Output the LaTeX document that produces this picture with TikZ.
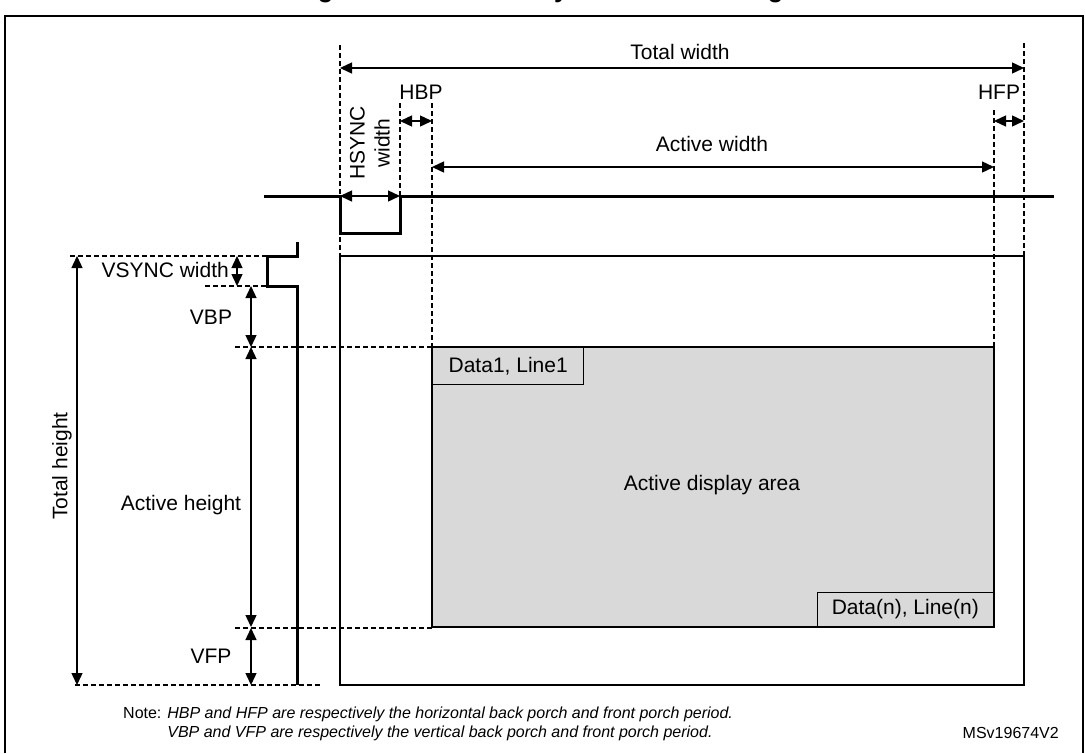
\documentclass[tikz,border=0pt]{standalone}
\usepackage{fontspec}
\setmainfont{Liberation Sans}
\usetikzlibrary{arrows.meta}

\begin{document}
\begin{tikzpicture}[x=1pt,y=-1pt,
		wave/.style={line width=3pt},
		box/.style={line width=1.4pt},
		guide/.style={line width=1.2pt,dash pattern=on 5pt off 3pt},
		dim/.style={line width=1.4pt,{Triangle[length=12pt,width=11pt]}-{Triangle[length=12pt,width=11pt]}},
		lbl/.style={font=\fontsize{21}{25}\selectfont,inner sep=0pt},
		small/.style={font=\fontsize{16}{19}\selectfont,inner sep=0pt}]
	\useasboundingbox (0,0) rectangle (1085,753);
	\begin{scope}
		\clip (0,0) rectangle (1085,753);
		\node[anchor=base west,inner sep=0pt,font=\bfseries\fontsize{25.5}{30}\selectfont] (title) at (295,-3) {Figure 85. LCD-TFT synchronous timings};
	\end{scope}
	\draw[box] (5,753) -- (5,16) -- (1083,16) -- (1083,753);
	% corners of the frame and of the active area
	\coordinate (dispTL) at (340,256);
	\coordinate (dispBR) at (1024,685);
	\coordinate (actTL) at (432,347);
	\coordinate (actBR) at (994,627);
	\coordinate (hsEnd) at (400,196);
	\coordinate (vsEnd) at (267,286);
	\coordinate (twY) at (0,68);
	\coordinate (porchY) at (0,121);
	\coordinate (awY) at (0,167);
	\coordinate (vfpY) at (0,628);
	% sync signals
	\draw[wave] (264,196) -| (340,233) -| (hsEnd) -- (1054,196);
	\draw[wave] (297,242) |- (267,256) |- (297,286) -- (297,685);
	% guides
	\draw[guide] (340,45) -- (dispTL);
	\draw[guide] (400,103) -- (hsEnd);
	\draw[guide] (432,103) -- (actTL);
	\draw[guide] (994,110) -- (actBR |- actTL);
	\draw[guide] (1024,43) -- (dispBR |- dispTL);
	\draw[guide] (70,256) -- (267,256);
	\draw[guide] (205,286) -- (vsEnd);
	\draw[guide] (235,347) -- (actTL);
	\draw[guide] (235,628) -- (actTL |- vfpY);
	\draw[guide] (75,685) -- (322,685);
	% display and active area
	\draw[box] (dispTL) rectangle (dispBR);
	\draw[box,fill=gray!30] (actTL) rectangle (actBR);
	\node[lbl,draw,box,fill=gray!30,anchor=north west,minimum width=151pt,minimum height=37pt] (first) at (actTL) {Data1, Line1};
	\node[lbl,draw,box,fill=gray!30,anchor=south east,minimum width=176pt,minimum height=34pt] (last) at (actBR) {Data(n), Line(n)};
	\node[lbl] (area) at (712,485) {Active display area};
	% horizontal timings
	\draw[dim] (dispTL |- twY) -- (dispBR |- twY);
	\draw[dim] (hsEnd |- porchY) -- (actTL |- porchY);
	\draw[dim] (actBR |- porchY) -- (dispBR |- porchY);
	\draw[dim] (actTL |- awY) -- (actBR |- awY);
	\draw[dim] (dispTL |- hsEnd) -- (hsEnd);
	\node[lbl] (tw) at (680,52) {Total width};
	\node[lbl] (hbp) at (421,92) {HBP};
	\node[lbl] (hfp) at (999,92) {HFP};
	\node[lbl] (aw) at (712,144) {Active width};
	\node[lbl,rotate=90,align=center] (hsw) at (370,143) {HSYNC\\width};
	% vertical timings
	\draw[dim] (77,256) -- (77,685);
	\draw[dim] (237,256) -- (237,286);
	\draw[dim] (251,286) -- (251,347);
	\draw[dim] (251,347) -- (251,627);
	\draw[dim] (251,628) -- (251,685);
	\node[lbl,rotate=90] (th) at (62,466) {Total height};
	\node[lbl,anchor=east] (vsw) at (229,270) {VSYNC width};
	\node[lbl] (vbp) at (211,317) {VBP};
	\node[lbl] (ah) at (181,505) {Active height};
	\node[lbl] (vfp) at (211,656) {VFP};
	% note
	\node[small,anchor=west,align=left] (note) at (123,724) {Note: \textit{HBP and HFP are respectively the horizontal back porch and front porch period.}\\\hphantom{Note: }\textit{VBP and VFP are respectively the vertical back porch and front porch period.}};
	\node[small,anchor=east] (ref) at (1059,733) {MSv19674V2};
\end{tikzpicture}
\end{document}
